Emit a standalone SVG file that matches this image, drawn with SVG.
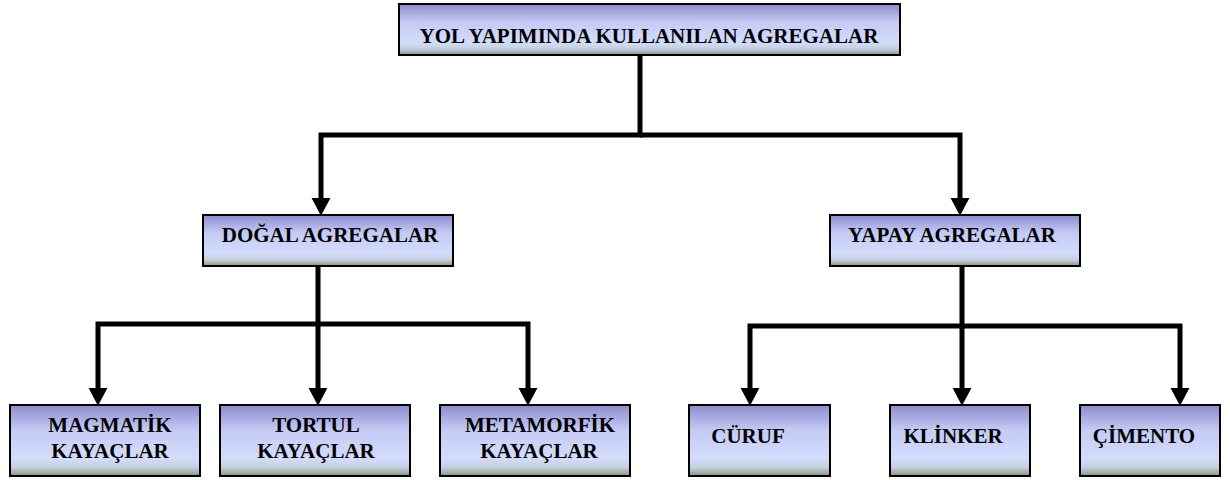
<svg xmlns="http://www.w3.org/2000/svg" width="1230" height="480" viewBox="0 0 1230 480">
<style>
.box{fill:url(#g);stroke:#000;stroke-width:2}
.t{font-family:"Liberation Serif","Times New Roman",serif;font-weight:bold;font-size:21px;fill:#000;text-anchor:middle}
.c{fill:none;stroke:#000;stroke-width:5;stroke-linejoin:miter}
</style>
<defs>
<linearGradient id="g" x1="0" y1="0" x2="0" y2="1">
<stop offset="0" stop-color="#8c8ccc"/>
<stop offset="0.35" stop-color="#c4caf4"/>
<stop offset="0.75" stop-color="#d4dcfc"/>
<stop offset="0.88" stop-color="#c4d0dc"/>
<stop offset="1" stop-color="#869686"/>
</linearGradient>
<marker id="ah" markerUnits="userSpaceOnUse" markerWidth="20" markerHeight="20" viewBox="0 -9 17 18" refX="0" refY="0" orient="auto">
<path d="M0,-8.5 L16,0 L0,8.5 Z" fill="#000"/>
</marker>
</defs>
<rect width="1230" height="480" fill="#fff"/>
<g id="connectors">
<path class="c" d="M640,56 V135 H321 V198" marker-end="url(#ah)"/>
<path class="c" d="M640,135 H960 V198" marker-end="url(#ah)"/>
<path class="c" d="M318,266 V324 H98 V388" marker-end="url(#ah)"/>
<path class="c" d="M318,324 V388" marker-end="url(#ah)"/>
<path class="c" d="M318,324 H528 V388" marker-end="url(#ah)"/>
<path class="c" d="M962,266 V326 H750 V388" marker-end="url(#ah)"/>
<path class="c" d="M962,326 V388" marker-end="url(#ah)"/>
<path class="c" d="M962,326 H1180 V388" marker-end="url(#ah)"/>
</g>
<g id="root"><rect class="box" x="399" y="4" width="501" height="51"/><text class="t" x="649" y="43">YOL YAPIMINDA KULLANILAN AGREGALAR</text></g>
<g id="dogal"><rect class="box" x="203" y="215" width="250" height="51"/><text class="t" x="330" y="242">DOĞAL AGREGALAR</text></g>
<g id="yapay"><rect class="box" x="830" y="215" width="250" height="51"/><text class="t" x="952" y="242">YAPAY AGREGALAR</text></g>
<g id="magmatik"><rect class="box" x="10" y="405" width="190" height="71"/><text class="t" x="110" y="432">MAGMATİK</text><text class="t" x="110" y="458">KAYAÇLAR</text></g>
<g id="tortul"><rect class="box" x="220" y="405" width="190" height="71"/><text class="t" x="316" y="432">TORTUL</text><text class="t" x="316" y="458">KAYAÇLAR</text></g>
<g id="metamorfik"><rect class="box" x="440" y="405" width="190" height="71"/><text class="t" x="540" y="432">METAMORFİK</text><text class="t" x="539" y="458">KAYAÇLAR</text></g>
<g id="curuf"><rect class="box" x="689" y="405" width="141" height="71"/><text class="t" x="748" y="443">CÜRUF</text></g>
<g id="klinker"><rect class="box" x="890" y="405" width="140" height="71"/><text class="t" x="953" y="443">KLİNKER</text></g>
<g id="cimento"><rect class="box" x="1080" y="405" width="140" height="71"/><text class="t" x="1144" y="443">ÇİMENTO</text></g>
</svg>
